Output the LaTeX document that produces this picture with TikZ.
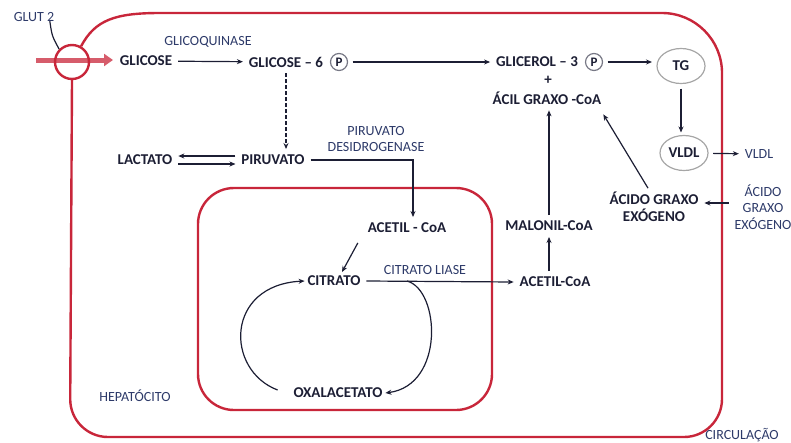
\documentclass[tikz,border=0pt]{standalone}
\usepackage{fontspec}
\setmainfont{Carlito}
\usetikzlibrary{arrows.meta,positioning,shapes.geometric}
\definecolor{membrana}{RGB}{200,38,58}
\definecolor{tinta}{RGB}{28,30,52}
\definecolor{rotulo}{RGB}{45,58,105}

\begin{document}
\begin{tikzpicture}[x=1pt,y=-1pt,line width=1.2pt,
  met/.style={font=\bfseries\fontsize{15}{17}\selectfont,text=tinta,inner sep=1pt,outer sep=5pt,align=center},
  enz/.style={font=\fontsize{14}{16.5}\selectfont,text=rotulo,inner sep=1pt,align=center},
  seta/.style={draw=tinta,-{Stealth[length=6pt,width=5pt]}},
  memb/.style={draw=membrana,line width=2.4pt},
  bola/.style={draw=gray!70,ellipse,minimum width=48pt,minimum height=35pt,inner sep=0pt},
  pcirc/.style={draw=tinta!60,circle,inner sep=1pt,minimum size=17pt,font=\bfseries\fontsize{13}{14}\selectfont,text=tinta,outer sep=5pt}]
\useasboundingbox (0,0) rectangle (791,442);
\draw[line width=5pt,membrana!75,-{Triangle[length=9pt,width=12pt]}] (36,60) -- (113,60);
\node[draw=membrana,line width=2.4pt,circle,minimum size=34pt,inner sep=0pt] (glut) at (72,62) {};
\draw[memb] (glut.60) .. controls (95,20) and (115,13) .. (160,13)
  [rounded corners=60pt] -- (722,13) [rounded corners=38pt] -- (722,437) -- (70,437) [sharp corners] -- (glut.south);
\draw[memb,rounded corners=36pt] (198,188) rectangle (492,410);
\node[enz] (glutlbl) at (34,17) {GLUT 2};
\draw[tinta] ([xshift=-6pt,yshift=2pt]glutlbl.south east) .. controls (52,36) .. (glut.north west);
\node[met] (glicose) at (146,61) {GLICOSE};
\node[enz] (quinase) at (208,42) {GLICOQUINASE};
\node[met] (g6p) at (286,62) {GLICOSE -- 6};
\node[pcirc] (g6pP) at (339,62) {P};
\node[met] (gli3) at (537,62) {GLICEROL -- 3};
\node[pcirc] (gli3P) at (594,62) {P};
\node[met,bola] (tg) at (681,66) {TG};
\node[met] (mais) at (548,80) {+};
\node[met] (acil) at (547,98) {ÁCIL GRAXO -CoA};
\node[met,bola] (vldl) at (684,153) {VLDL};
\node[enz,outer sep=5pt] (vldlout) at (759,154) {VLDL};
\node[met] (agexo) at (654,207) {ÁCIDO GRAXO\\EXÓGENO};
\node[enz,outer sep=5pt] (agout) at (763,207) {ÁCIDO\\GRAXO\\EXÓGENO};
\node[met] (piruvato) at (273,160) {PIRUVATO};
\node[met] (lactato) at (145,160) {LACTATO};
\node[enz] (pdh) at (376,139) {PIRUVATO\\DESIDROGENASE};
\node[met] (acetil) at (407,228) {ACETIL - CoA};
\node[met] (citrato) at (334,281) {CITRATO};
\node[enz] (liase) at (425,270) {CITRATO LIASE};
\node[met] (acetilc) at (555,282) {ACETIL-CoA};
\node[met] (malonil) at (549,226) {MALONIL-CoA};
\node[met] (oxal) at (338,393) {OXALACETATO};
\node[enz] (hepato) at (135,396) {HEPATÓCITO};
\node[enz] (circ) at (742,435) {CIRCULAÇÃO};
\coordinate (cl) at (407,281);
\draw[seta] (glicose) -- (g6p);
\draw[seta] (g6pP) -- (gli3);
\draw[seta] (gli3P) -- (gli3P -| tg.west);
\draw[seta,dash pattern=on 4pt off 2pt,line width=1.5pt] (g6p.south) -- (g6p.south |- piruvato.north);
\draw[seta] ([yshift=4pt]piruvato.west) -- ([yshift=4pt]lactato.east);
\draw[seta] ([yshift=-4pt]lactato.east) -- ([yshift=-4pt]piruvato.west);
\draw[seta] (piruvato.east) -| ([xshift=6pt]acetil.north);
\draw[seta] ([xshift=-4pt,yshift=-4pt]acetil.south west) -- ([xshift=8pt,yshift=-2pt]citrato.north);
\draw[seta] (citrato.east) -- (acetilc.west);
\draw[seta] (cl) .. controls (440,290) and (445,385) .. ([xshift=-3pt]oxal.east);
\draw[seta] ([xshift=-10pt,yshift=3pt]oxal.west) .. controls (225,370) and (225,285) .. ([xshift=3pt]citrato.west);
\draw[seta] (malonil.south |- acetilc.north) -- (malonil.south);
\draw[seta] (malonil.north) -- (malonil.north |- acil.south);
\draw[seta] ([xshift=-6pt,yshift=-2pt]agexo.north) -- ([xshift=-4pt,yshift=-4pt]acil.south east);
\draw[seta] (tg.south) -- ([yshift=-2pt]tg.south |- vldl.north);
\draw[seta] (vldl) -- (vldlout);
\draw[seta] ([yshift=4pt]agout.west) -- ([yshift=4pt]agexo.east);
\end{tikzpicture}
\end{document}
